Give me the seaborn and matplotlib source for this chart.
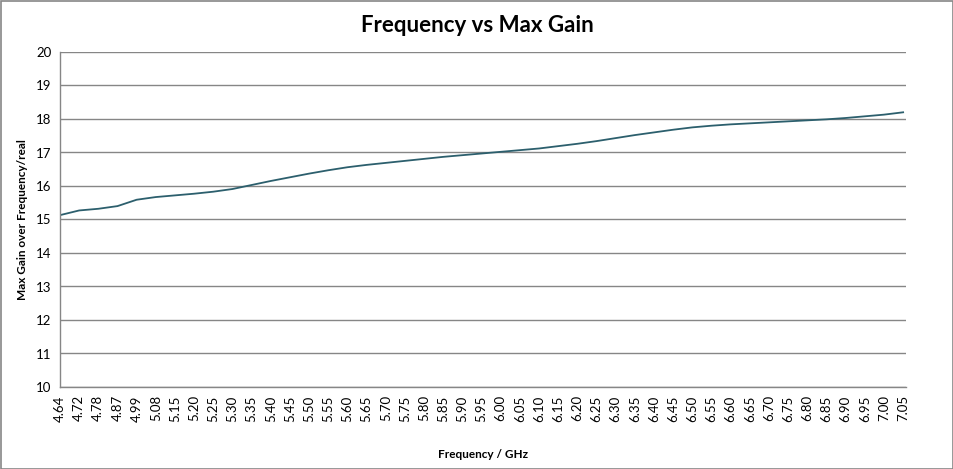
import matplotlib.pyplot as plt
import numpy as np
import pandas as pd
import seaborn as sns
from matplotlib.patches import Rectangle

frequency_labels = ["4.64", "4.72", "4.78", "4.87", "4.99", "5.08", "5.15",
                    "5.20", "5.25", "5.30", "5.35", "5.40", "5.45", "5.50",
                    "5.55", "5.60", "5.65", "5.70", "5.75", "5.80", "5.85",
                    "5.90", "5.95", "6.00", "6.05", "6.10", "6.15", "6.20",
                    "6.25", "6.30", "6.35", "6.40", "6.45", "6.50", "6.55",
                    "6.60", "6.65", "6.70", "6.75", "6.80", "6.85", "6.90",
                    "6.95", "7.00", "7.05"]
max_gain = [15.13, 15.27, 15.32, 15.40, 15.59, 15.67, 15.72,
            15.77, 15.83, 15.91, 16.03, 16.15, 16.26, 16.37,
            16.47, 16.56, 16.63, 16.69, 16.75, 16.81, 16.87,
            16.92, 16.97, 17.02, 17.07, 17.12, 17.19, 17.26,
            17.34, 17.43, 17.52, 17.60, 17.68, 17.75, 17.80,
            17.84, 17.87, 17.90, 17.93, 17.96, 17.99, 18.03,
            18.08, 18.13, 18.20]

plt.rcParams['font.family'] = ['Lato', 'DejaVu Sans']


def main():
    df = pd.DataFrame({'pos': np.arange(len(frequency_labels)),
                       'Frequency': frequency_labels,
                       'Gain': max_gain})

    fig = plt.figure(figsize=(9.54, 4.69), dpi=100)
    ax = fig.add_axes([60 / 954, 1 - 387 / 469, 846 / 954, 335 / 469])

    sns.lineplot(x='pos', y='Gain', data=df, ax=ax, color='#2c5f6d', linewidth=1.3)

    ax.set_xlim(0, len(frequency_labels) - 1 + 0.15)
    ax.set_ylim(10, 20)
    ax.set_yticks(np.arange(10, 21, 1))
    ax.set_xticks(df['pos'])
    ax.set_xticklabels(frequency_labels, rotation=90, fontsize=9.5)
    ax.tick_params(axis='y', labelsize=9.5, length=0, pad=6)
    ax.tick_params(axis='x', length=0, pad=6)
    ax.yaxis.grid(True, color='#868686', linewidth=1)
    ax.set_axisbelow(True)
    for side in ['top', 'right']:
        ax.spines[side].set_visible(False)
    for side in ['left', 'bottom']:
        ax.spines[side].set_color('#868686')
        ax.spines[side].set_linewidth(1)

    ax.set_xlabel('Frequency / GHz', fontsize=8.5, fontweight='bold', labelpad=20)
    ax.set_ylabel('Max Gain over Frequency/real', fontsize=8.5, fontweight='bold', labelpad=6)
    fig.text(477 / 954, 1 - 26 / 469, 'Frequency vs Max Gain', ha='center', va='center',
             fontsize=16, fontweight='bold')

    fig.patches.append(Rectangle((0.5 / 954, 0.5 / 469), 952.5 / 954, 467.5 / 469,
                                 transform=fig.transFigure, fill=False,
                                 edgecolor='#868686', linewidth=1.2))

    plt.savefig('out.png', dpi=100)


if __name__ == "__main__":
    main()
